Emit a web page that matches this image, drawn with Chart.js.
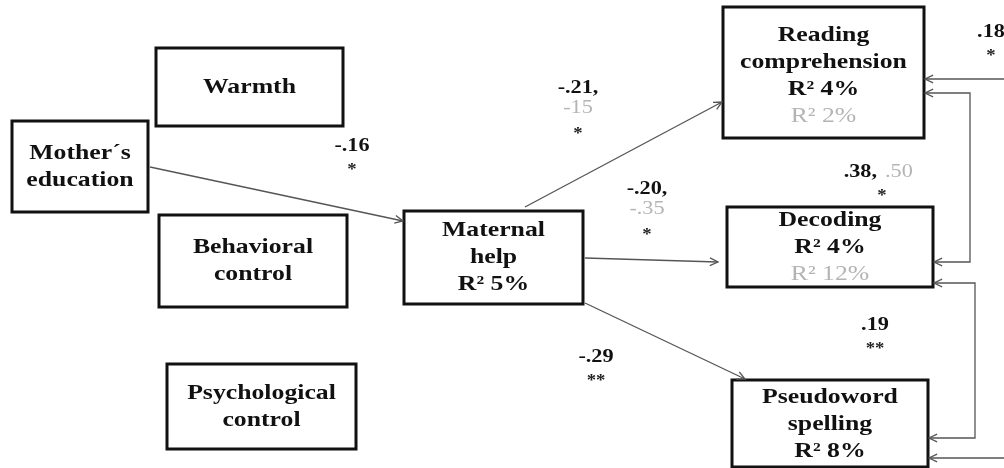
<!DOCTYPE html>
<html>
<head>
<meta charset="utf-8">
<script src="https://cdn.jsdelivr.net/npm/chart.js@4.4.1/dist/chart.umd.min.js"></script>
<style>
  html, body { margin: 0; padding: 0; background: #fff; }
  canvas { display: block; }
</style>
</head>
<body>
<canvas id="pathChart" width="1004" height="468"></canvas>
<script>
// node names (boxes) of the path model
const nodeLabels = [
  ['Warmth'],
  ['Mother\u00b4s', 'education'],
  ['Behavioral', 'control'],
  ['Psychological', 'control'],
  ['Maternal', 'help', 'R\u00b2 5%'],
  ['Reading', 'comprehension', 'R\u00b2 4%', 'R\u00b2 2%'],
  ['Decoding', 'R\u00b2 4%', 'R\u00b2 12%'],
  ['Pseudoword', 'spelling', 'R\u00b2 8%']
]
// which line of each box is the grey (second sample) value, -1 = none
const greyLine = [-1, -1, -1, -1, -1, 3, 2, -1]

// box extents in diagram units
const boxLeft   = [156, 12, 159, 167, 404, 723, 727, 732]
const boxRight  = [343, 148, 347, 356, 583, 924, 933, 928]
const boxTop    = [48, 121, 215, 364, 211, 7, 207, 380]
const boxBottom = [126, 212, 307, 449, 304, 138, 287, 467]
const textShift = [0, 0, 0, 0, 0, 3, 0, 1]

// path coefficients
const coefMain  = ['-.16', '-.21,', '-.20,', '-.29', '.18', '.38,', '.19']
const coefGrey  = ['', '-15', '-.35', '', '', '.50', '']
const coefStars = ['*', '*', '*', '**', '*', '*', '**']
const coefX = [352, 578, 647, 596, 991, 864, 875]
const coefY = [146, 88, 189, 357, 32, 172, 325]

// arrows: polylines, arrow head at start and/or end
const arrowPaths = [
  [[150, 167], [403, 221]],
  [[525, 207], [722, 102]],
  [[585, 258], [718, 262]],
  [[585, 303], [745, 379]],
  [[1010, 79], [925, 79]],
  [[925, 93], [970, 93], [970, 262], [934, 262]],
  [[934, 283], [975, 283], [975, 438], [929, 438]],
  [[1010, 458], [929, 458]]
]
const headStart = [false, false, false, false, false, true, true, false]
const headEnd   = [true, true, true, true, true, true, true, true]

const serif = '"Liberation Serif", "Times New Roman", serif'
const stretch = 1.17

const datasets = []

nodeLabels.forEach((lab, i) => {
  datasets.push({
    data: [
      {x: boxLeft[i], y: boxTop[i]},
      {x: boxRight[i], y: boxTop[i]},
      {x: boxRight[i], y: boxBottom[i]},
      {x: boxLeft[i], y: boxBottom[i]},
      {x: boxLeft[i], y: boxTop[i]},
      {x: boxRight[i], y: boxTop[i]}
    ],
    showLine: true,
    borderColor: '#111',
    borderWidth: 3,
    borderJoinStyle: 'miter',
    pointRadius: 0,
    fill: false
  })
})

arrowPaths.forEach(p => {
  datasets.push({
    data: p.map(pt => ({x: pt[0], y: pt[1]})),
    showLine: true,
    borderColor: '#555',
    borderWidth: 1.3,
    pointRadius: 0,
    fill: false
  })
})

function stretchedText(ctx, txt, x, y) {
  ctx.save()
  ctx.translate(x, y)
  ctx.scale(stretch, 1)
  ctx.fillText(txt, 0, 0)
  ctx.restore()
}

function drawHead(ctx, tip, from) {
  const ang = Math.atan2(tip[1] - from[1], tip[0] - from[0])
  const len = 9, spread = 0.45
  ctx.beginPath()
  ctx.moveTo(tip[0] - len * Math.cos(ang - spread), tip[1] - len * Math.sin(ang - spread))
  ctx.lineTo(tip[0], tip[1])
  ctx.lineTo(tip[0] - len * Math.cos(ang + spread), tip[1] - len * Math.sin(ang + spread))
  ctx.stroke()
}

const diagramPlugin = {
  id: 'diagram',
  afterDatasetsDraw(chart) {
    const ctx = chart.ctx
    const sx = chart.scales.x, sy = chart.scales.y
    const px = v => sx.getPixelForValue(v)
    const py = v => sy.getPixelForValue(v)

    // arrow heads
    ctx.save()
    ctx.strokeStyle = '#555'
    ctx.lineWidth = 1.3
    arrowPaths.forEach((p, i) => {
      const pts = p.map(pt => [px(pt[0]), py(pt[1])])
      if (headEnd[i]) drawHead(ctx, pts[pts.length - 1], pts[pts.length - 2])
      if (headStart[i]) drawHead(ctx, pts[0], pts[1])
    })
    ctx.restore()

    // box texts
    ctx.save()
    ctx.textAlign = 'center'
    ctx.textBaseline = 'middle'
    const lineH = 27
    nodeLabels.forEach((lab, i) => {
      const cx = px((boxLeft[i] + boxRight[i]) / 2)
      const cy = py((boxTop[i] + boxBottom[i]) / 2 + textShift[i])
      const y0 = cy - (lab.length - 1) * lineH / 2
      lab.forEach((t, j) => {
        if (j === greyLine[i]) {
          ctx.fillStyle = '#b4b4b4'
          ctx.font = '22px ' + serif
        } else {
          ctx.fillStyle = '#111'
          ctx.font = 'bold 22px ' + serif
        }
        stretchedText(ctx, t, cx, y0 + j * lineH)
      })
    })

    // coefficients
    coefMain.forEach((c, i) => {
      const x = px(coefX[i]), y = py(coefY[i])
      const oneLine = coefGrey[i] && c.startsWith('.3')
      ctx.fillStyle = '#111'
      ctx.font = 'bold 19px ' + serif
      let starY = y + 24
      if (oneLine) {
        // main and grey value on one line
        ctx.textAlign = 'right'
        stretchedText(ctx, c, x + 13, y)
        ctx.textAlign = 'left'
        ctx.fillStyle = '#b4b4b4'
        ctx.font = '19px ' + serif
        stretchedText(ctx, coefGrey[i], x + 21, y)
      } else {
        ctx.textAlign = 'center'
        stretchedText(ctx, c, x, y)
        if (coefGrey[i]) {
          ctx.fillStyle = '#b4b4b4'
          ctx.font = '19px ' + serif
          stretchedText(ctx, coefGrey[i], x, y + 20)
          starY = y + 46
        }
      }
      ctx.textAlign = 'center'
      ctx.fillStyle = '#222'
      ctx.font = 'bold 16px ' + serif
      stretchedText(ctx, coefStars[i], oneLine ? x + 18 : x, starY)
    })
    ctx.restore()
  }
}

const chart = new Chart(document.getElementById('pathChart'), {
  type: 'scatter',
  data: { datasets: datasets },
  options: {
    responsive: false,
    animation: false,
    events: [],
    layout: { padding: 0 },
    plugins: { legend: { display: false }, tooltip: { enabled: false } },
    scales: {
      x: { type: 'linear', display: false, min: 0, max: 1004 },
      y: { type: 'linear', display: false, min: 0, max: 468, reverse: true }
    }
  },
  plugins: [diagramPlugin]
})
</script>
</body>
</html>
